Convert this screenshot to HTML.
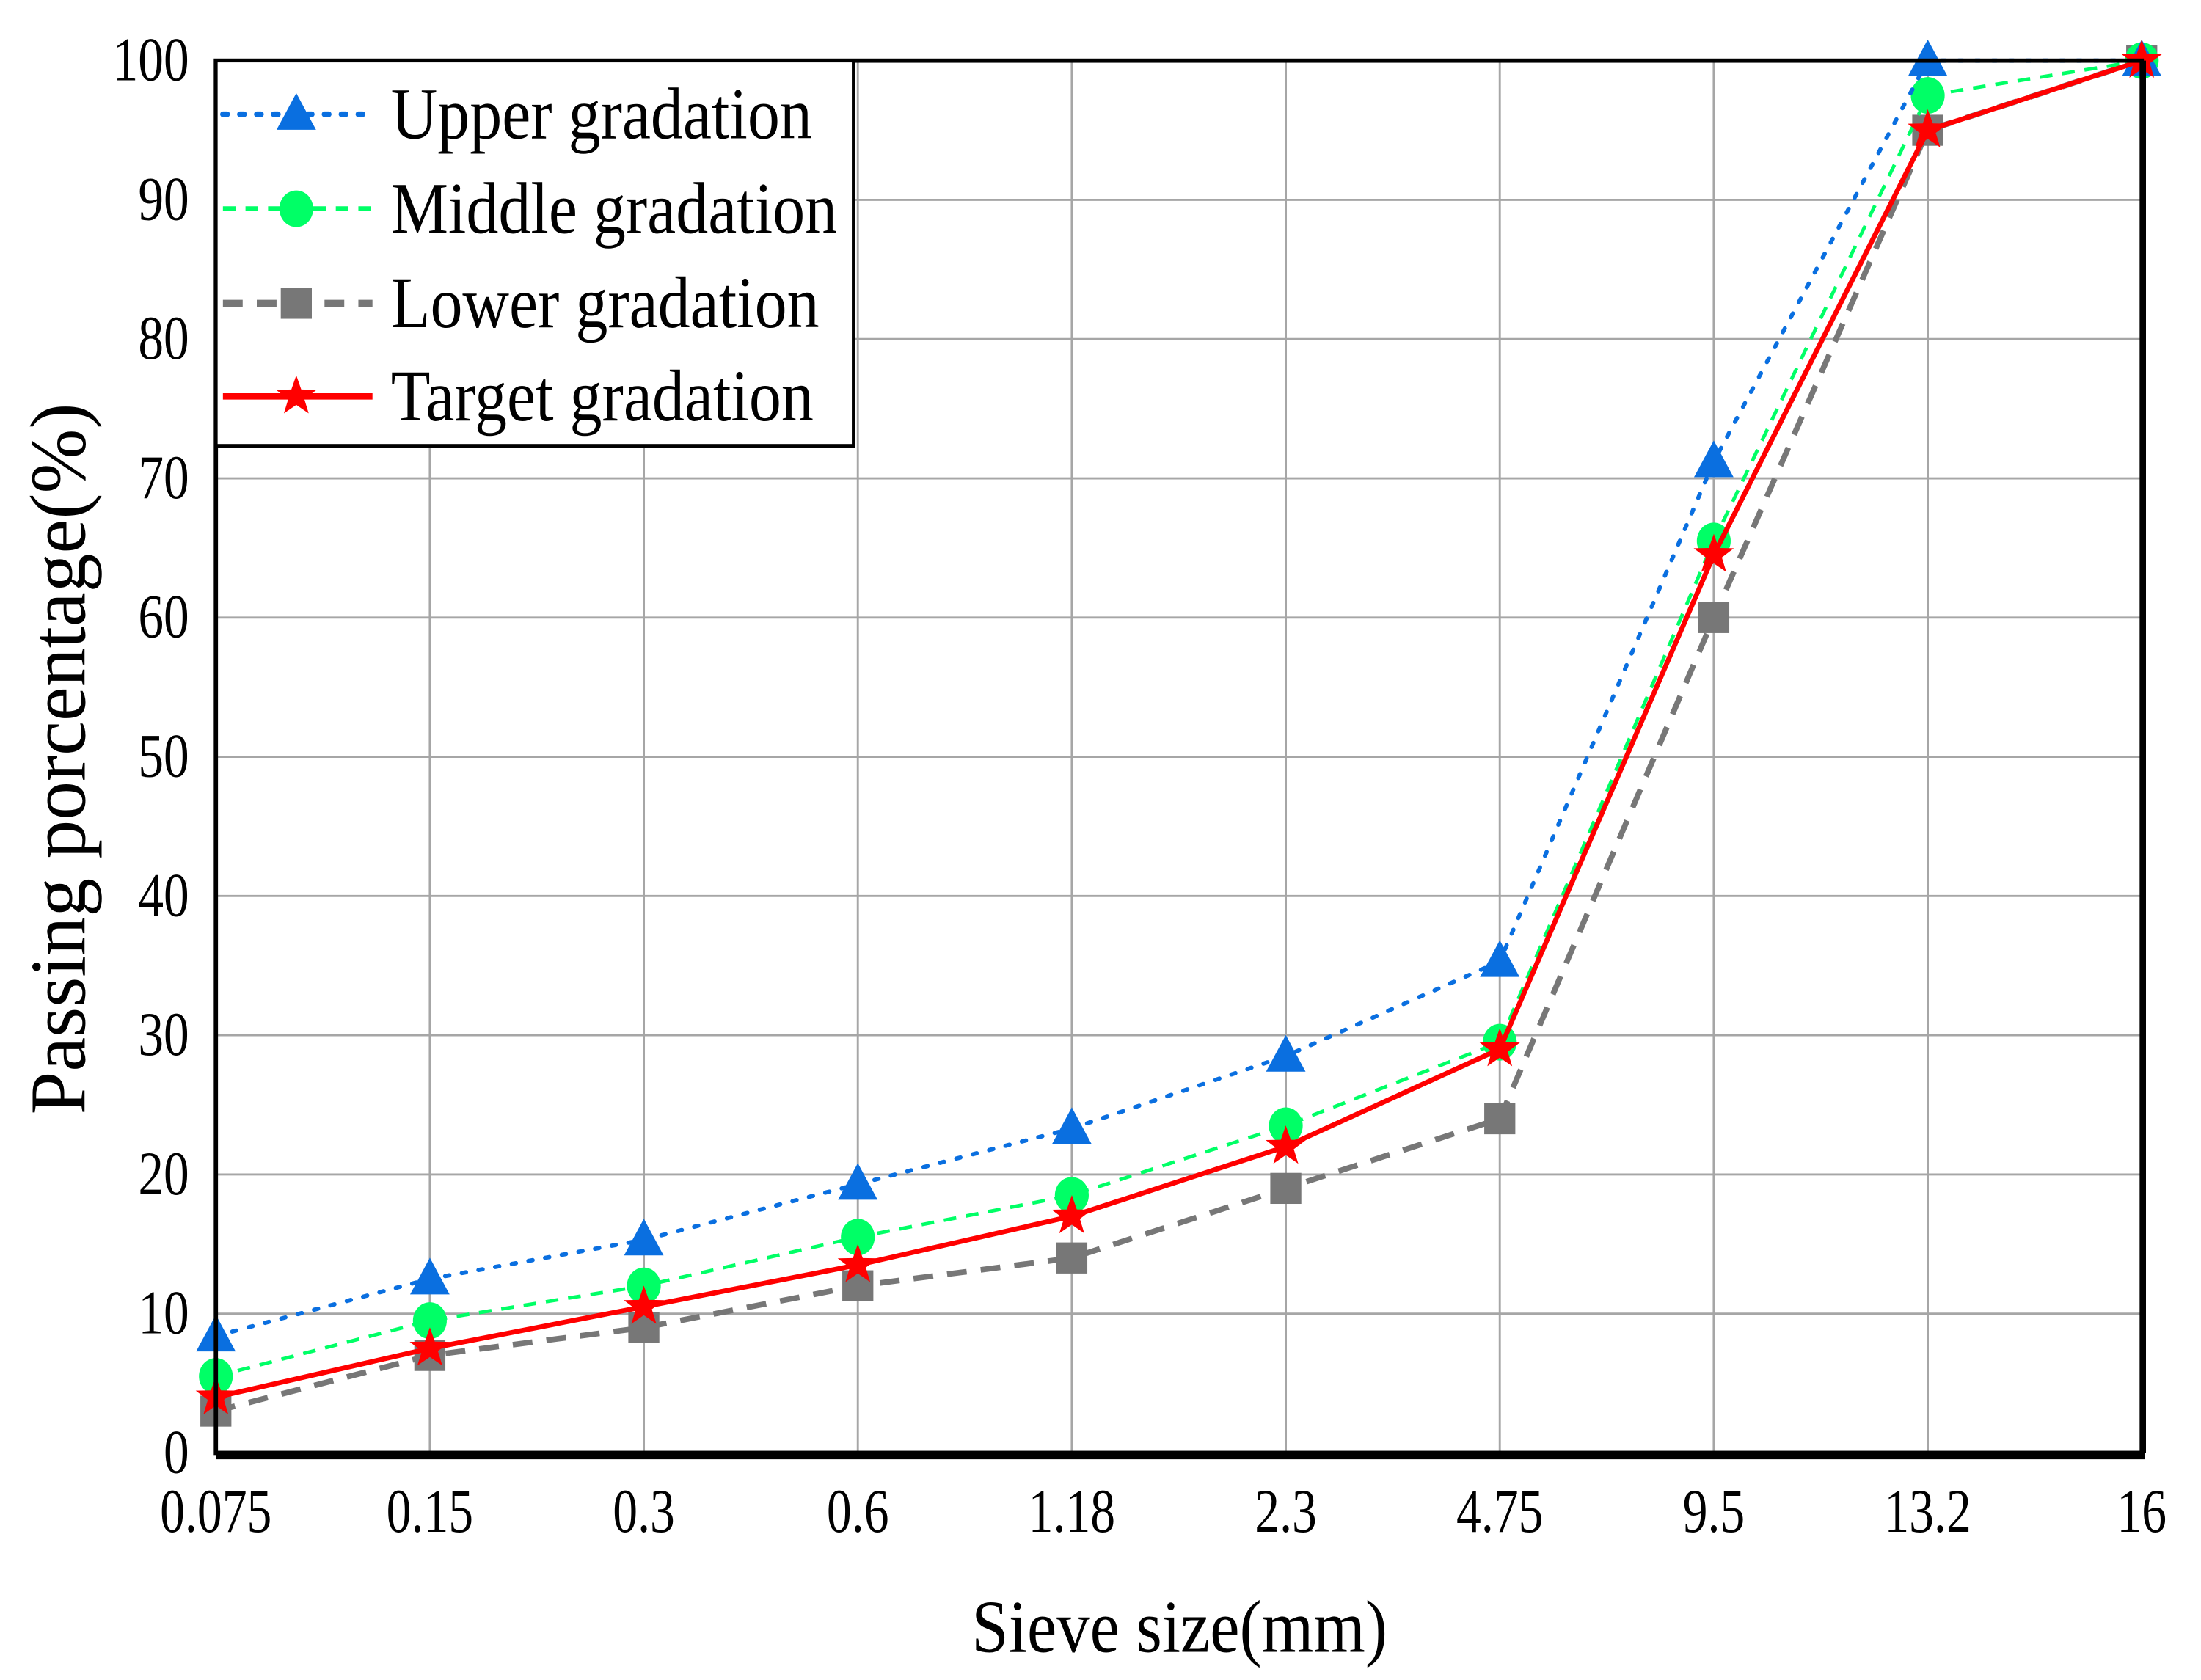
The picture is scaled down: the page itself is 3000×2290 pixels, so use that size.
<!DOCTYPE html>
<html><head><meta charset="utf-8"><style>html,body{margin:0;padding:0;background:#fff}svg{display:block}</style></head>
<body>
<svg id="chart" width="3000" height="2290" viewBox="0 0 1560 1191" preserveAspectRatio="none" xmlns="http://www.w3.org/2000/svg" font-family="'Liberation Serif', serif"></svg>
<script>
const categories = ["0.075","0.15","0.3","0.6","1.18","2.3","4.75","9.5","13.2","16"];
const yTicks = [0,10,20,30,40,50,60,70,80,90,100];
const upper = [8.4,12.5,15.3,19.3,23.3,28.5,35.3,71.2,100,100];
const middle = [5.5,9.5,12,15.5,18.5,23.5,29.5,65.5,97.5,100];
const lower = [3,7,9,12,14,19,24,60,95,100];
const target = [4,7.5,10.5,13.5,17,22,29,64.5,95,100];

const X0=153,X1=1518,Y0=1030,Y1=43;
const svg=document.getElementById('chart');
const NS='http://www.w3.org/2000/svg';
function xs(i){return X0+i*(X1-X0)/(categories.length-1);}
function ys(v){return Y0-(v/100)*(Y0-Y1);}
function mk(tag,attrs,parent){const e=document.createElementNS(NS,tag);for(const k in attrs)e.setAttribute(k,attrs[k]);(parent||svg).appendChild(e);return e;}

// grid
const grid=mk('g',{});


yTicks.forEach(v=>{mk('line',{x1:X0,x2:X1,y1:ys(v),y2:ys(v),stroke:'#a6a6a6','stroke-width':1.5},grid);});
categories.forEach((c,i)=>{mk('line',{x1:xs(i),x2:xs(i),y1:Y1,y2:Y0,stroke:'#a6a6a6','stroke-width':1.5},grid);});

// tick labels
yTicks.forEach(v=>{const t=mk('text',{x:0,y:0,'font-size':44,'text-anchor':'end',transform:`translate(134,${ys(v)+14}) scale(0.82,1)`});t.textContent=v;

});
categories.forEach((c,i)=>{const t=mk('text',{x:0,y:0,'font-size':44,'text-anchor':'middle',transform:`translate(${xs(i)},1086) scale(0.8,1)`});t.textContent=c;

});

// titles
let t=mk('text',{x:0,y:0,'font-size':53,'text-anchor':'middle',transform:'translate(836,1171) scale(0.89,1)'});t.textContent='Sieve size(mm)';


t=mk('text',{x:0,y:0,'font-size':56,'text-anchor':'middle',transform:'translate(60,538) rotate(-90) scale(0.98,1)'});t.textContent='Passing porcentage(%)';



function marker(type,x,y,color,parent){
  if(type==='tri') return mk('polygon',{points:`${x},${y-15} ${x-14},${y+11} ${x+14},${y+11}`,fill:color},parent);
  if(type==='circle') return mk('ellipse',{cx:x,cy:y,rx:12,ry:13,fill:color},parent);
  if(type==='square') return mk('rect',{x:x-11,y:y-11,width:22,height:22,fill:color},parent);
  const p=[];for(let k=0;k<10;k++){const r=k%2?6:15;const a=-Math.PI/2+k*Math.PI/5;p.push((x+r*Math.cos(a)).toFixed(1)+','+(y+r*Math.sin(a)).toFixed(1));}
  return mk('polygon',{points:p.join(' '),fill:color},parent);
}
const series=[
 {name:'lower',data:lower,color:'#777777',dash:'14 10',w:4,m:'square'},
 {name:'middle',data:middle,color:'#00ff66',dash:'9 7',w:2.5,m:'circle'},
 {name:'upper',data:upper,color:'#0a6fe0',dash:'3 9',w:3,m:'tri',cap:'round'},
 {name:'target',data:target,color:'#ff0000',dash:'none',w:3.5,m:'star'}
];
series.forEach(s=>{
  const g=mk('g',{});
  
  
  const pts=s.data.map((v,i)=>xs(i)+','+ys(v)).join(' ');
  mk('polyline',{points:pts,fill:'none',stroke:s.color,'stroke-width':s.w,'stroke-dasharray':s.dash,'stroke-linecap':s.cap||'butt'},g);
  s.data.forEach((v,i)=>{const m=marker(s.m,xs(i),ys(v),s.color,g);
    
    });
});

// axes frame
const frame=mk('rect',{x:X0,y:Y1,width:X1-X0,height:Y0-Y1,fill:'none',stroke:'#000','stroke-width':3});


mk('line',{x1:X0,x2:X1+2,y1:Y0+2,y2:Y0+2,stroke:'#000','stroke-width':5});
mk('line',{x1:X1+1,x2:X1+1,y1:Y1,y2:Y0,stroke:'#000','stroke-width':4});

// legend
const lg=mk('g',{});


mk('rect',{x:X0,y:Y1,width:452,height:273,fill:'#fff',stroke:'#000','stroke-width':2.5},lg);
const leg=[
 {label:'Upper gradation',s:series[2],y:81},
 {label:'Middle gradation',s:series[1],y:148},
 {label:'Lower gradation',s:series[0],y:215},
 {label:'Target gradation',s:series[3],y:281}
];
leg.forEach(l=>{
  const e=mk('g',{},lg);
  
  
  mk('line',{x1:158,x2:264,y1:l.y,y2:l.y,stroke:l.s.color,'stroke-width':l.s.w+1,'stroke-dasharray':l.s.dash,'stroke-linecap':l.s.cap||'butt'},e);
  marker(l.s.m,210,l.y,l.s.color,e);
  const tt=mk('text',{x:0,y:0,'font-size':52,transform:`translate(277,${l.y+17}) scale(0.88,1)`},e);
  tt.textContent=l.label;
});
</script>
</body></html>
